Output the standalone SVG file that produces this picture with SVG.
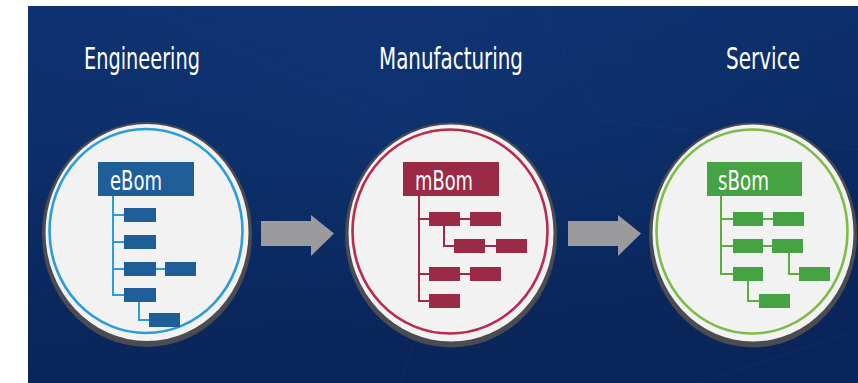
<svg xmlns="http://www.w3.org/2000/svg" width="858" height="383" viewBox="0 0 858 383">
  <defs>
    <linearGradient id="bg" x1="0" y1="0" x2="0.2" y2="1">
      <stop offset="0" stop-color="#0e3170"/>
      <stop offset="0.5" stop-color="#0b2b64"/>
      <stop offset="1" stop-color="#0a2559"/>
    </linearGradient>
    <radialGradient id="glow" cx="0.45" cy="0.25" r="0.6">
      <stop offset="0" stop-color="#1a4a8f" stop-opacity="0.2"/>
      <stop offset="1" stop-color="#1a4a8f" stop-opacity="0"/>
    </radialGradient>
  </defs>
  <style>
    .title { font-family: "DejaVu Sans Condensed", "Liberation Sans", sans-serif; font-size: 30px; fill: #ffffff; }
    .head { font-family: "DejaVu Sans Condensed", "Liberation Sans", sans-serif; font-size: 26px; fill: #ffffff; }
    .rim { fill: #4a4c52; }
    .disc { fill: #f2f2f2; }
    .ring { fill: none; stroke-width: 2.6; }
    .arrow { fill: #9b9b9d; }
    .net { stroke: #4c72b0; stroke-width: 0.8; opacity: 0.12; fill: none; }
    .blue .ring { stroke: #2a9dd8; }
    .blue .box { fill: #1f5e99; }
    .blue .wire { stroke: #2a9dd8; stroke-width: 2; fill: none; }
    .red .ring { stroke: #b82a4e; }
    .red .box { fill: #9a2a46; }
    .red .wire { stroke: #9a2a46; stroke-width: 2; fill: none; }
    .green .ring { stroke: #7cbc4a; }
    .green .box { fill: #46a343; }
    .green .wire { stroke: #5cae3c; stroke-width: 2; fill: none; }
  </style>

  <!-- backdrop -->
  <rect x="0" y="0" width="858" height="383" fill="#ffffff"/>
  <rect x="28" y="6" width="830" height="377" fill="url(#bg)"/>
  <rect x="28" y="6" width="830" height="377" fill="url(#glow)"/>
  <g class="net">
    <path d="M150 6 L470 160"/>
    <path d="M540 6 L600 120 L858 150"/>
    <path d="M780 6 L720 100"/>
    <path d="M28 300 L160 240"/>
    <path d="M400 383 L430 300"/>
    <path d="M700 383 L858 330"/>
  </g>

  <!-- column titles -->
  <text class="title" x="84" y="69" textLength="116" lengthAdjust="spacingAndGlyphs">Engineering</text>
  <text class="title" x="379" y="69" textLength="144" lengthAdjust="spacingAndGlyphs">Manufacturing</text>
  <text class="title" x="726" y="69" textLength="74" lengthAdjust="spacingAndGlyphs">Service</text>

  <!-- flow arrows -->
  <g id="connectors">
    <polygon class="arrow" points="261,221 311,221 311,215 334,233.5 311,256 311,246 261,246"/>
    <polygon class="arrow" points="568,221 618,221 618,215 641,233.5 618,256 618,246 568,246"/>
  </g>

  <!-- engineering bill of materials -->
  <g id="engineering" class="blue">
    <ellipse class="rim" cx="147" cy="234.5" rx="105" ry="112.5"/>
    <ellipse class="disc" cx="147" cy="232.5" rx="101.5" ry="108.5"/>
    <ellipse class="ring" cx="146" cy="231" rx="96.5" ry="102"/>
    <path class="wire" d="M113 196 V295 H124 M113 215 H124 M113 242 H124 M113 269 H124 M156 269 H165 M139 302 V320 H149"/>
    <rect class="box" x="98" y="162" width="96" height="34"/>
    <text class="head" x="110" y="190" textLength="52" lengthAdjust="spacingAndGlyphs">eBom</text>
    <rect class="box" x="124" y="208" width="32" height="14"/>
    <rect class="box" x="124" y="235" width="32" height="14"/>
    <rect class="box" x="124" y="262" width="32" height="14"/>
    <rect class="box" x="165" y="262" width="31" height="14"/>
    <rect class="box" x="124" y="288" width="32" height="14"/>
    <rect class="box" x="149" y="313" width="31" height="14"/>
  </g>

  <!-- manufacturing bill of materials -->
  <g id="manufacturing" class="red">
    <ellipse class="rim" cx="451" cy="235" rx="106" ry="112.5"/>
    <ellipse class="disc" cx="451" cy="233" rx="102.5" ry="108.5"/>
    <ellipse class="ring" cx="450" cy="231.5" rx="97.5" ry="102"/>
    <path class="wire" d="M419 196 V301 H429 M419 219 H429 M460 219 H470 M444 226 V246 H454 M485 246 H496 M419 274 H429 M460 274 H470"/>
    <rect class="box" x="403" y="162" width="96" height="34"/>
    <text class="head" x="415" y="190" textLength="58" lengthAdjust="spacingAndGlyphs">mBom</text>
    <rect class="box" x="429" y="212" width="31" height="14"/>
    <rect class="box" x="470" y="212" width="31" height="14"/>
    <rect class="box" x="454" y="239" width="31" height="14"/>
    <rect class="box" x="496" y="239" width="31" height="14"/>
    <rect class="box" x="429" y="267" width="31" height="14"/>
    <rect class="box" x="470" y="267" width="31" height="14"/>
    <rect class="box" x="429" y="294" width="31" height="14"/>
  </g>

  <!-- service bill of materials -->
  <g id="service" class="green">
    <ellipse class="rim" cx="753" cy="235" rx="104" ry="112.5"/>
    <ellipse class="disc" cx="753" cy="233" rx="100.5" ry="108.5"/>
    <ellipse class="ring" cx="752" cy="231.5" rx="95.5" ry="102"/>
    <path class="wire" d="M721 196 V274 H733 M721 219 H733 M763 219 H773 M721 246 H733 M763 246 H772 M789 253 V274 H799 M748 281 V301 H759"/>
    <rect class="box" x="707" y="162" width="95" height="34"/>
    <text class="head" x="718" y="190" textLength="51" lengthAdjust="spacingAndGlyphs">sBom</text>
    <rect class="box" x="733" y="212" width="30" height="14"/>
    <rect class="box" x="773" y="212" width="31" height="14"/>
    <rect class="box" x="733" y="239" width="30" height="14"/>
    <rect class="box" x="772" y="239" width="31" height="14"/>
    <rect class="box" x="799" y="267" width="31" height="14"/>
    <rect class="box" x="733" y="267" width="30" height="14"/>
    <rect class="box" x="759" y="294" width="31" height="14"/>
  </g>
</svg>
